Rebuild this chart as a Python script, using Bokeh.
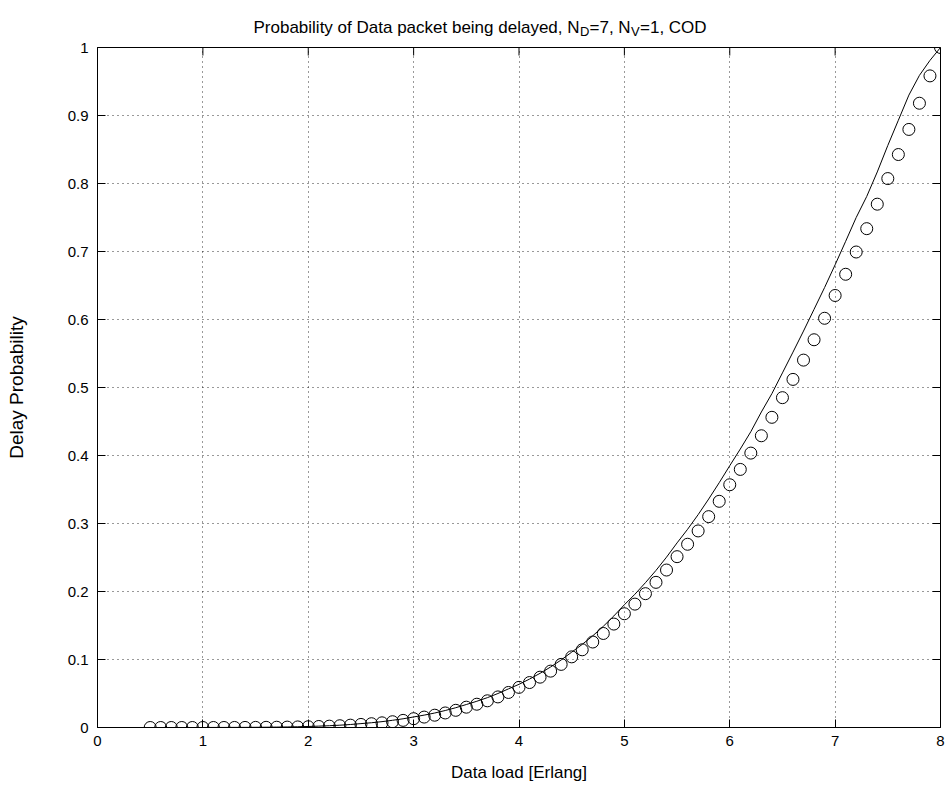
import math
from bokeh.plotting import figure
from bokeh.layouts import column
from bokeh.models import Range1d, FixedTicker, ColumnDataSource
from bokeh.core.properties import value
from bokeh.embed import file_html
from bokeh.resources import INLINE

# ---------------- data ----------------
data_load = [0.5, 0.6, 0.7, 0.8, 0.9, 1.0, 1.1, 1.2, 1.3, 1.4,
             1.5, 1.6, 1.7, 1.8, 1.9, 2.0, 2.1, 2.2, 2.3, 2.4,
             2.5, 2.6, 2.7, 2.8, 2.9, 3.0, 3.1, 3.2, 3.3, 3.4,
             3.5, 3.6, 3.7, 3.8, 3.9, 4.0, 4.1, 4.2, 4.3, 4.4,
             4.5, 4.6, 4.7, 4.8, 4.9, 5.0, 5.1, 5.2, 5.3, 5.4,
             5.5, 5.6, 5.7, 5.8, 5.9, 6.0, 6.1, 6.2, 6.3, 6.4,
             6.5, 6.6, 6.7, 6.8, 6.9, 7.0, 7.1, 7.2, 7.3, 7.4,
             7.5, 7.6, 7.7, 7.8, 7.9, 8.0]

# analytical delay probability (circles)
delay_analytic = [0.0, 0.0, 0.0, 0.0, 0.0, 0.00001, 0.00002, 0.00004, 0.00007, 0.00011,
                  0.00017, 0.00027, 0.00040, 0.00058, 0.00083, 0.00115, 0.00151, 0.00198, 0.00261, 0.00343,
                  0.00452, 0.00558, 0.00688, 0.00849, 0.01048, 0.01295, 0.01531, 0.01809, 0.02139, 0.02528,
                  0.02989, 0.03425, 0.03925, 0.04497, 0.05153, 0.05904, 0.06611, 0.07403, 0.08290, 0.09283,
                  0.10389, 0.11428, 0.12571, 0.13828, 0.15211, 0.16727, 0.18144, 0.19681, 0.21348, 0.23157,
                  0.25122, 0.26948, 0.28907, 0.31009, 0.33263, 0.35698, 0.37954, 0.40353, 0.42903, 0.45615,
                  0.48505, 0.51192, 0.54028, 0.57021, 0.60180, 0.63532, 0.66652, 0.69925, 0.73358, 0.76960,
                  0.80725, 0.84261, 0.87952, 0.91804, 0.95825, 1.0]

# simulated delay probability (solid line)
delay_simulated = [0.0, 0.0, 0.0, 0.0, 0.0, 0.0, 0.0001, 0.0001, 0.0002, 0.0002,
                   0.0003, 0.0004, 0.0006, 0.0008, 0.0011, 0.0015, 0.0020, 0.0026, 0.0034, 0.0044,
                   0.0057, 0.0070, 0.0086, 0.0106, 0.0128, 0.0155, 0.0182, 0.0213, 0.0250, 0.0291,
                   0.0338, 0.0386, 0.0439, 0.0500, 0.0568, 0.0635, 0.0712, 0.0797, 0.0890, 0.0993,
                   0.1108, 0.1222, 0.1348, 0.1488, 0.1640, 0.1805, 0.1960, 0.2130, 0.2310, 0.2505,
                   0.2715, 0.2915, 0.3130, 0.3360, 0.3600, 0.3850, 0.4095, 0.4350, 0.4640, 0.4910,
                   0.5215, 0.5520, 0.5830, 0.6150, 0.6470, 0.6805, 0.7150, 0.7500, 0.7810, 0.8170,
                   0.8560, 0.8930, 0.9300, 0.9590, 0.9810, 1.0]

x_ticks = [0, 1, 2, 3, 4, 5, 6, 7, 8]
y_ticks = [0, 0.1, 0.2, 0.3, 0.4, 0.5, 0.6, 0.7, 0.8, 0.9, 1]
y_tick_labels = ["0", "0.1", "0.2", "0.3", "0.4", "0.5", "0.6", "0.7", "0.8", "0.9", "1"]

title_parts = ["Probability of Data packet being delayed, N", "D", "=7, N", "V", "=1, COD"]
x_label = "Data load [Erlang]"
y_label = "Delay Probability"

FONT = "Liberation Sans"
W = 947
TITLE_H = 38
LEFT, RIGHT = 97, 7

# ---------------- title strip (pixel layout; frame matches the main frame) ----------------
t = figure(width=W, height=TITLE_H, output_backend="svg", toolbar_location=None,
           x_range=Range1d(LEFT, W - RIGHT), y_range=Range1d(TITLE_H, 0),
           x_axis_location=None, y_axis_location=None,
           min_border_left=LEFT, min_border_right=RIGHT, min_border_top=0, min_border_bottom=0,
           title=None, outline_line_color=None)
t.grid.visible = False
title_x = [253, 579.5, 589, 630.5, 639.5]
title_y = [27, 31, 27, 31, 27]
title_sz = ["17px", "13px", "17px", "13px", "17px"]
for tx, ty, ts, tt in zip(title_x, title_y, title_sz, title_parts):
    t.text(x=[tx], y=[ty], text=[tt], text_font=value(FONT),
           text_font_size=value(ts), text_color="black",
           text_baseline="alphabetic", text_align="left")

# ---------------- main axes ----------------
p = figure(width=W, height=796 - TITLE_H, output_backend="svg", toolbar_location=None,
           x_range=Range1d(0, 8), y_range=Range1d(0, 1),
           min_border_left=LEFT, min_border_right=RIGHT, min_border_top=47 - TITLE_H,
           min_border_bottom=69,
           title=None, background_fill_color="white", border_fill_color="white")
p.outline_line_color = "black"
p.outline_line_width = 1

xt = FixedTicker(ticks=x_ticks)
yt = FixedTicker(ticks=y_ticks)

for g, tk in ((p.xgrid, xt), (p.ygrid, yt)):
    g.ticker = tk
    g.grid_line_color = "black"
    g.grid_line_alpha = 0.8
    g.grid_line_dash = "1 4"
    g.grid_line_width = 1

src = ColumnDataSource(dict(x=data_load, a=delay_analytic, s=delay_simulated))
p.line("x", "s", source=src, line_color="black", line_width=1)
p.scatter("x", "a", source=src, marker="circle", size=12, fill_color=None,
          line_color="black", line_width=1)

# mirrored inward ticks on the top and right edges (outer half is clipped by the frame)
top_y = [y_ticks[-1]] * len(x_ticks)
right_x = [x_ticks[-1]] * len(y_ticks)
p.scatter(x=x_ticks, y=top_y, marker="dash", angle=math.pi / 2, size=16,
          line_color="black", line_width=1)
p.scatter(x=right_x, y=y_ticks, marker="dash", size=16,
          line_color="black", line_width=1)

for ax in p.xaxis:
    ax.ticker = xt
    ax.axis_label = x_label
    ax.major_label_standoff = 8
    ax.axis_label_standoff = 14
    ax.axis_label_text_font_size = "17px"
for ax in p.yaxis:
    ax.ticker = yt
    ax.axis_label = y_label
    ax.major_label_overrides = {tv: lb for tv, lb in zip(y_ticks, y_tick_labels)}
    ax.major_label_standoff = 9
    ax.axis_label_standoff = 38
    ax.axis_label_text_font_size = "19px"

for ax in list(p.xaxis) + list(p.yaxis):
    ax.major_tick_in = 8
    ax.major_tick_out = 0
    ax.minor_tick_line_color = None
    ax.axis_line_color = "black"
    ax.major_tick_line_color = "black"
    ax.major_label_text_font = FONT
    ax.major_label_text_font_size = "15px"
    ax.major_label_text_color = "black"
    ax.axis_label_text_font = FONT
    ax.axis_label_text_font_style = "normal"
    ax.axis_label_text_color = "black"

layout = column(t, p, spacing=0)
open("out.html", "w").write(file_html(layout, INLINE))
